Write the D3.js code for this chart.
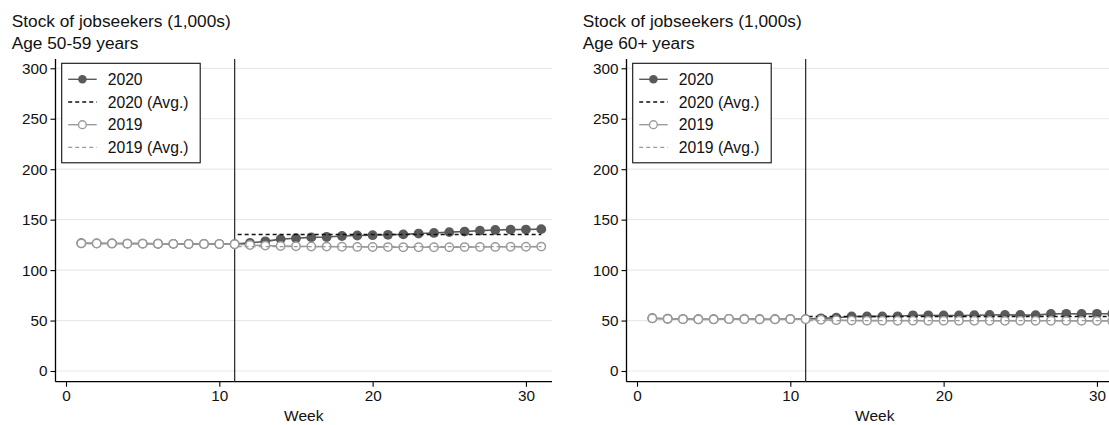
<!DOCTYPE html>
<html>
<head>
<meta charset="utf-8">
<script src="https://cdn.jsdelivr.net/npm/d3@7"></script>
<style>
  html, body { margin: 0; padding: 0; background: #fff; }
  svg { display: block; font-family: "Liberation Sans", Arial, Helvetica, sans-serif; }
</style>
</head>
<body>
<svg id="chart" width="1109" height="425"></svg>
<script>
// Weekly stock of jobseekers (in 1,000s) by age group, 2020 vs 2019
const weeks = [1, 2, 3, 4, 5, 6, 7, 8, 9, 10, 11, 12, 13, 14, 15, 16, 17, 18, 19, 20,
               21, 22, 23, 24, 25, 26, 27, 28, 29, 30, 31];

const age5059_2020 = [126.6, 126.5, 126.4, 126.3, 126.2, 126.1, 126.0, 125.9, 125.9, 125.8, 125.7,
                      127.0, 128.5, 130.7, 131.6, 132.4, 132.8, 133.8, 134.3, 134.6, 135.0,
                      135.4, 136.2, 136.8, 137.6, 138.2, 139.1, 139.8, 140.1, 140.2, 140.6];
const age5059_2019 = [126.5, 126.4, 126.3, 126.2, 126.2, 126.1, 126.0, 125.9, 125.8, 125.8, 125.6,
                      124.8, 124.3, 123.9, 123.6, 123.4, 123.3, 123.2, 123.0, 122.9, 122.8,
                      122.7, 122.6, 122.6, 122.7, 122.8, 122.9, 123.0, 123.1, 123.2, 123.3];
const age5059_avg2020 = 135.3;
const age5059_avg2019 = 123.3;

const age60_2020 = [52.3, 51.8, 51.5, 51.3, 51.3, 51.6, 51.5, 51.3, 51.3, 51.5, 51.4,
                    52.2, 52.8, 54.0, 54.1, 54.1, 54.2, 55.2, 55.2, 55.0, 55.0,
                    55.3, 55.5, 55.6, 55.5, 55.4, 56.6, 56.7, 56.6, 56.7, 56.8];
const age60_2019 = [52.2, 51.7, 51.4, 51.2, 51.2, 51.5, 51.4, 51.2, 51.2, 51.4, 51.3,
                    50.8, 50.4, 50.0, 49.9, 49.9, 49.8, 49.9, 49.8, 49.8, 49.8,
                    49.8, 49.8, 49.7, 49.8, 49.8, 49.8, 49.7, 49.7, 49.7, 49.6];
const age60_avg2020 = 54.0;
const age60_avg2019 = 49.9;

// Post-period averages run from the policy week to the last week
const policyWeek = 11;
const avgWeeks = [11, 31];

const xTicks = [0, 10, 20, 30];
const yTicks = [0, 50, 100, 150, 200, 250, 300];
const legendLabels = ["2020", "2020 (Avg.)", "2019", "2019 (Avg.)"];
const titleLine = "Stock of jobseekers (1,000s)";
const panelSubtitles = ["Age 50-59 years", "Age 60+ years"];
const xTitle = "Week";

const C2020 = "#5a5a5a";
const C2019 = "#9b9b9b";

const svg = d3.select("#chart");

const panels = [
  { left: 55.5, subtitle: panelSubtitles[0], v2020: age5059_2020, v2019: age5059_2019, a2020: age5059_avg2020, a2019: age5059_avg2019 },
  { left: 626.5, subtitle: panelSubtitles[1], v2020: age60_2020, v2019: age60_2019, a2020: age60_avg2020, a2019: age60_avg2019 }
];

const plotTop = 59, plotBottom = 381.7, plotWidth = 496.5;

panels.forEach(p => {
  const g = svg.append("g");
  const x = d3.scaleLinear().domain([-0.685, 31.7]).range([p.left, p.left + plotWidth]);
  const y = d3.scaleLinear().domain([-10.6, 309.2]).range([plotBottom, plotTop]);

  // titles
  g.append("text").attr("x", p.left - 43.8).attr("y", 26.7)
    .attr("font-size", 17.3).attr("fill", "#111").text(titleLine);
  g.append("text").attr("x", p.left - 43.8).attr("y", 48.7)
    .attr("font-size", 17.3).attr("fill", "#111").text(p.subtitle);

  // gridlines
  g.append("g").selectAll("line").data(yTicks).join("line")
    .attr("x1", p.left).attr("x2", p.left + plotWidth)
    .attr("y1", d => y(d)).attr("y2", d => y(d))
    .attr("stroke", "#e9e9e9").attr("stroke-width", 1.2);

  // axes
  const yAxis = d3.axisLeft(y).tickValues(yTicks).tickSize(5).tickPadding(3);
  const ya = g.append("g").attr("transform", `translate(${p.left},0)`).call(yAxis);
  ya.select(".domain").attr("d", `M0,${plotTop}V${plotBottom}`).attr("stroke", "#000").attr("stroke-width", 1.3);
  ya.selectAll(".tick line").attr("stroke", "#000").attr("stroke-width", 1.1);
  ya.selectAll(".tick text").attr("font-size", 15.3).attr("fill", "#111").attr("font-family", null);

  const xAxis = d3.axisBottom(x).tickValues(xTicks).tickSize(5).tickPadding(3);
  const xa = g.append("g").attr("transform", `translate(0,${plotBottom})`).call(xAxis);
  xa.select(".domain").attr("d", `M${p.left},0H${p.left + plotWidth}`).attr("stroke", "#000").attr("stroke-width", 1.3);
  xa.selectAll(".tick line").attr("stroke", "#000").attr("stroke-width", 1.1);
  xa.selectAll(".tick text").attr("font-size", 15.3).attr("fill", "#111").attr("font-family", null);

  g.append("text").attr("x", p.left + plotWidth / 2).attr("y", 421)
    .attr("text-anchor", "middle").attr("font-size", 15.5).attr("fill", "#111").text(xTitle);

  // policy week marker
  g.append("line").attr("x1", x(policyWeek)).attr("x2", x(policyWeek))
    .attr("y1", plotTop).attr("y2", plotBottom)
    .attr("stroke", "#333").attr("stroke-width", 1.3);

  const line = d3.line().x((d, i) => x(weeks[i])).y(d => y(d));

  // 2020 series
  g.append("path").datum(p.v2020).attr("d", line)
    .attr("fill", "none").attr("stroke", C2020).attr("stroke-width", 1.6);
  g.append("g").selectAll("circle").data(p.v2020).join("circle")
    .attr("cx", (d, i) => x(weeks[i])).attr("cy", d => y(d)).attr("r", 4.9)
    .attr("fill", C2020);

  // averages
  g.append("line").attr("x1", x(avgWeeks[0])).attr("x2", x(avgWeeks[1]))
    .attr("y1", y(p.a2020)).attr("y2", y(p.a2020))
    .attr("stroke", "#111").attr("stroke-width", 1.4).attr("stroke-dasharray", "4,3")
    .attr("stroke-dashoffset", 4);

  // 2019 series
  g.append("path").datum(p.v2019).attr("d", line)
    .attr("fill", "none").attr("stroke", C2019).attr("stroke-width", 1.6);
  g.append("g").selectAll("circle").data(p.v2019).join("circle")
    .attr("cx", (d, i) => x(weeks[i])).attr("cy", d => y(d)).attr("r", 4.2)
    .attr("fill", "#fff").attr("stroke", C2019).attr("stroke-width", 1.5);

  g.append("line").attr("x1", x(avgWeeks[0])).attr("x2", x(avgWeeks[1]))
    .attr("y1", y(p.a2019)).attr("y2", y(p.a2019))
    .attr("stroke", C2019).attr("stroke-width", 1.3).attr("stroke-dasharray", "4,3")
    .attr("stroke-dashoffset", 4);

  // legend
  const lx = p.left + 6.2, ly = 63.3, lw = 138.5, lh = 99.5, rowH = 22.7;
  const lg = g.append("g");
  lg.append("rect").attr("x", lx).attr("y", ly).attr("width", lw).attr("height", lh)
    .attr("fill", "#fff").attr("stroke", "#111").attr("stroke-width", 1.1);
  const styles = [
    { stroke: C2020, dash: null, marker: "filled" },
    { stroke: "#111", dash: "4,3", marker: null },
    { stroke: C2019, dash: null, marker: "open" },
    { stroke: C2019, dash: "4,3", marker: null }
  ];
  legendLabels.forEach((lab, i) => {
    const cy = ly + 16 + i * rowH;
    const s = styles[i];
    lg.append("line").attr("x1", lx + 6.5).attr("x2", lx + 35)
      .attr("y1", cy).attr("y2", cy)
      .attr("stroke", s.stroke).attr("stroke-width", 1.4)
      .attr("stroke-dasharray", s.dash);
    if (s.marker === "filled") {
      lg.append("circle").attr("cx", lx + 20.7).attr("cy", cy).attr("r", 4.3).attr("fill", C2020);
    } else if (s.marker === "open") {
      lg.append("circle").attr("cx", lx + 20.7).attr("cy", cy).attr("r", 3.9)
        .attr("fill", "#fff").attr("stroke", C2019).attr("stroke-width", 1.4);
    }
    lg.append("text").attr("x", lx + 46).attr("y", cy + 5.5)
      .attr("font-size", 15.7).attr("fill", "#111").text(lab);
  });
});
</script>
</body>
</html>
